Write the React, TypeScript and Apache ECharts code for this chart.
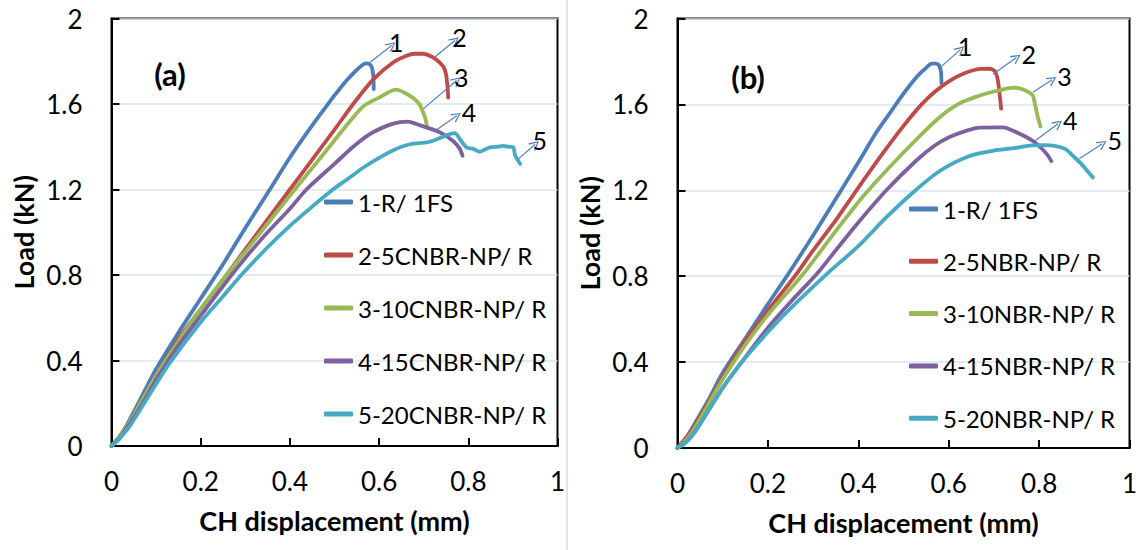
import React, { useEffect, useRef } from 'react';
import * as echarts from 'echarts';

const FONT = 'Lato, "Open Sans", sans-serif';
const colors = ['#4A7EBB', '#BE4B48', '#98B954', '#7D60A0', '#46AAC5'];

const namesA = ['1-R/ 1FS', '2-5CNBR-NP/ R', '3-10CNBR-NP/ R', '4-15CNBR-NP/ R', '5-20CNBR-NP/ R'];
const namesB = ['1-R/ 1FS', '2-5NBR-NP/ R', '3-10NBR-NP/ R', '4-15NBR-NP/ R', '5-20NBR-NP/ R'];

// Panel (a): [CH displacement (mm), Load (kN)]
const a1 = [[0,0],[0.02,0.05],[0.04,0.12],[0.07,0.24],[0.1,0.36],[0.15,0.53],[0.2,0.69],[0.25,0.85],[0.3,1.02],[0.355,1.2],[0.4,1.35],[0.45,1.5],[0.482,1.59],[0.5,1.64],[0.527,1.71],[0.55,1.76],[0.561,1.78],[0.57,1.79],[0.578,1.787],[0.584,1.77],[0.587,1.73],[0.588,1.67]];
const a2 = [[0,0],[0.02,0.05],[0.04,0.11],[0.07,0.22],[0.1,0.33],[0.15,0.5],[0.2,0.64],[0.258,0.8],[0.3,0.92],[0.35,1.06],[0.4,1.2],[0.45,1.34],[0.5,1.48],[0.542,1.6],[0.587,1.715],[0.632,1.795],[0.66,1.825],[0.68,1.835],[0.698,1.835],[0.715,1.825],[0.73,1.805],[0.744,1.775],[0.75,1.74],[0.753,1.69],[0.755,1.63]];
const a3 = [[0,0],[0.02,0.05],[0.04,0.11],[0.07,0.22],[0.1,0.33],[0.15,0.49],[0.2,0.64],[0.258,0.8],[0.3,0.91],[0.35,1.04],[0.411,1.2],[0.45,1.3],[0.5,1.43],[0.535,1.52],[0.565,1.59],[0.6,1.63],[0.638,1.667],[0.655,1.655],[0.675,1.63],[0.69,1.6],[0.698,1.565],[0.704,1.53],[0.707,1.498]];
const a4 = [[0,0],[0.02,0.04],[0.04,0.1],[0.07,0.2],[0.1,0.31],[0.15,0.47],[0.2,0.61],[0.269,0.8],[0.3,0.88],[0.35,1.0],[0.4,1.11],[0.437,1.2],[0.5,1.32],[0.542,1.4],[0.58,1.46],[0.62,1.5],[0.647,1.515],[0.665,1.518],[0.692,1.5],[0.737,1.467],[0.766,1.427],[0.781,1.39],[0.787,1.358]];
const a5 = [[0,0],[0.02,0.04],[0.04,0.09],[0.07,0.19],[0.1,0.29],[0.131,0.39],[0.2,0.58],[0.25,0.7],[0.291,0.8],[0.35,0.93],[0.4,1.03],[0.45,1.12],[0.49,1.19],[0.53,1.25],[0.57,1.31],[0.61,1.36],[0.65,1.4],[0.677,1.415],[0.707,1.42],[0.73,1.435],[0.752,1.455],[0.77,1.464],[0.781,1.436],[0.796,1.397],[0.811,1.39],[0.826,1.376],[0.835,1.385],[0.849,1.397],[0.865,1.4],[0.878,1.404],[0.89,1.4],[0.901,1.397],[0.905,1.36],[0.916,1.32]];

// Panel (b)
const b1 = [[0,0],[0.02,0.05],[0.04,0.12],[0.07,0.23],[0.1,0.35],[0.15,0.51],[0.2,0.67],[0.245,0.81],[0.3,0.99],[0.35,1.16],[0.4,1.33],[0.44,1.47],[0.47,1.56],[0.5,1.65],[0.53,1.73],[0.55,1.77],[0.562,1.79],[0.572,1.79],[0.579,1.78],[0.583,1.75],[0.584,1.7]];
const b2 = [[0,0],[0.02,0.05],[0.04,0.11],[0.07,0.22],[0.1,0.33],[0.15,0.5],[0.2,0.64],[0.263,0.81],[0.3,0.92],[0.35,1.06],[0.396,1.2],[0.45,1.36],[0.5,1.5],[0.54,1.6],[0.57,1.66],[0.602,1.71],[0.635,1.745],[0.669,1.765],[0.69,1.766],[0.702,1.755],[0.708,1.72],[0.712,1.66],[0.716,1.58]];
const b3 = [[0,0],[0.02,0.04],[0.04,0.1],[0.07,0.21],[0.1,0.32],[0.15,0.48],[0.2,0.62],[0.278,0.81],[0.35,1.01],[0.414,1.18],[0.47,1.31],[0.53,1.44],[0.58,1.54],[0.62,1.6],[0.66,1.635],[0.7,1.66],[0.745,1.678],[0.77,1.665],[0.786,1.642],[0.79,1.61],[0.796,1.55],[0.803,1.497]];
const b4 = [[0,0],[0.02,0.03],[0.04,0.08],[0.07,0.18],[0.1,0.28],[0.142,0.4],[0.2,0.56],[0.25,0.68],[0.308,0.81],[0.35,0.92],[0.4,1.05],[0.462,1.2],[0.529,1.34],[0.57,1.41],[0.602,1.448],[0.64,1.478],[0.669,1.492],[0.72,1.493],[0.75,1.47],[0.786,1.43],[0.808,1.39],[0.82,1.36],[0.827,1.336]];
const b5 = [[0,0],[0.02,0.03],[0.04,0.08],[0.07,0.18],[0.1,0.28],[0.142,0.4],[0.2,0.54],[0.25,0.65],[0.33,0.81],[0.4,0.94],[0.46,1.07],[0.521,1.19],[0.58,1.29],[0.646,1.36],[0.7,1.385],[0.74,1.395],[0.78,1.408],[0.81,1.41],[0.84,1.405],[0.86,1.39],[0.875,1.36],[0.89,1.33],[0.905,1.295],[0.919,1.26]];

const curvesA = [a1, a2, a3, a4, a5];
const curvesB = [b1, b2, b3, b4, b5];

// Arrow annotations: [fromX, fromY, toX, toY]
const arrowLabels = ['1', '2', '3', '4', '5'];
const arrowsA = [[0.58,1.795,0.628,1.874],[0.725,1.82,0.77,1.897],[0.695,1.57,0.774,1.71],[0.729,1.48,0.774,1.545],[0.912,1.342,0.95,1.412]];
const arrowsB = [[0.584,1.777,0.626,1.855],[0.698,1.74,0.75,1.818],[0.786,1.657,0.829,1.715],[0.792,1.432,0.842,1.51],[0.889,1.347,0.94,1.417]];

const yMin = 0, yMax = 2, yStep = 0.4;
const xMin = 0, xMax = 1, xStep = 0.2;

const CHEVRON = 'path://M5,0 L10,10 L8.8,10.6 L5,2.6 L1.2,10.6 L0,10 Z';

function makeAxes(idx: number) {
  const x = {
    type: 'value', gridIndex: idx, min: xMin, max: xMax, interval: xStep,
    name: 'CH displacement (mm)', nameLocation: 'middle', nameGap: 61,
    nameTextStyle: { fontFamily: FONT, fontWeight: 'bold', fontSize: 27, color: '#000' },
    axisLine: { show: true, lineStyle: { color: '#000', width: 2 } },
    axisTick: { show: true, inside: true, length: 8, lineStyle: { color: '#000', width: 2 } },
    axisLabel: { fontFamily: FONT, fontSize: 26, color: '#000', margin: 22 },
    splitLine: { show: false },
  };
  const y = {
    type: 'value', gridIndex: idx, min: yMin, max: yMax, interval: yStep,
    name: 'Load (kN)', nameLocation: 'middle', nameGap: 75,
    nameTextStyle: { fontFamily: FONT, fontWeight: 'bold', fontSize: 27, color: '#000' },
    axisLine: { show: true, lineStyle: { color: '#000', width: 2 } },
    axisTick: { show: true, inside: true, length: 8, lineStyle: { color: '#000', width: 2 } },
    axisLabel: { fontFamily: FONT, fontSize: 26, color: '#000', margin: 29 },
    splitLine: { show: true, lineStyle: { color: '#D9E3F0', width: 1.5 } },
  };
  return { x, y };
}

function makeSeries(curves: number[][][], names: string[], arrows: number[][], idx: number) {
  return curves.map((c, i) => ({
    type: 'line', name: names[i], xAxisIndex: idx, yAxisIndex: idx,
    data: c, showSymbol: false, symbol: 'none', smooth: 0.25,
    lineStyle: { color: colors[i], width: 3.8, cap: 'round', join: 'round' },
    itemStyle: { color: colors[i] },
    z: 3 + i,
    markLine: {
      silent: true, animation: false,
      symbol: ['none', CHEVRON], symbolSize: [10, 10],
      lineStyle: { color: '#4F81BD', width: 1.2, type: 'solid' },
      label: { show: true, position: 'end', distance: 6, formatter: arrowLabels[i], fontFamily: FONT, fontSize: 25, color: '#000' },
      emphasis: { disabled: true },
      data: [[{ coord: [arrows[i][0], arrows[i][1]] }, { coord: [arrows[i][2], arrows[i][3]] }]],
    },
  }));
}

export default function App() {
  const ref = useRef<HTMLDivElement>(null);
  useEffect(() => {
    if (!ref.current) return;
    const chart = echarts.init(ref.current, null, { renderer: 'svg' });
    const axA = makeAxes(0);
    const axB = makeAxes(1);
    const legendCommon = {
      orient: 'vertical', icon: 'roundRect', itemWidth: 29, itemHeight: 5, padding: 0,
      textStyle: { fontFamily: FONT, fontSize: 24, color: '#000', lineHeight: 26 },
      selectedMode: false,
    };
    chart.setOption({
      animation: false,
      backgroundColor: '#fff',
      grid: [
        { left: 111.5, top: 18.5, width: 446, height: 427.5, show: true, borderColor: '#000', borderWidth: 2, backgroundColor: 'transparent' },
        { left: 677.5, top: 18.5, width: 452, height: 429.5, show: true, borderColor: '#000', borderWidth: 2, backgroundColor: 'transparent' },
      ],
      xAxis: [axA.x, axB.x],
      yAxis: [axA.y, axB.y],
      legend: [
        { ...legendCommon, left: 324, top: 189, itemGap: 27, data: namesA },
        { ...legendCommon, left: 909, top: 196, itemGap: 26.3, data: namesB },
      ],
      graphic: [
        { type: 'line', shape: { x1: 567, y1: 0, x2: 567, y2: 550 }, style: { stroke: '#E4E4E4', lineWidth: 2 }, silent: true },
        { type: 'text', x: 170, y: 74, style: { text: '(a)', font: `bold 31px ${FONT}`, fill: '#000', align: 'center', verticalAlign: 'middle' } },
        { type: 'text', x: 748, y: 77, style: { text: '(b)', font: `bold 31px ${FONT}`, fill: '#000', align: 'center', verticalAlign: 'middle' } },
      ],
      series: [
        ...makeSeries(curvesA, namesA, arrowsA, 0),
        ...makeSeries(curvesB, namesB, arrowsB, 1),
      ],
    });
    return () => chart.dispose();
  }, []);
  return <div ref={ref} style={{ position: 'absolute', left: 0, top: 0, width: 1143, height: 550, background: '#fff' }} />;
}
